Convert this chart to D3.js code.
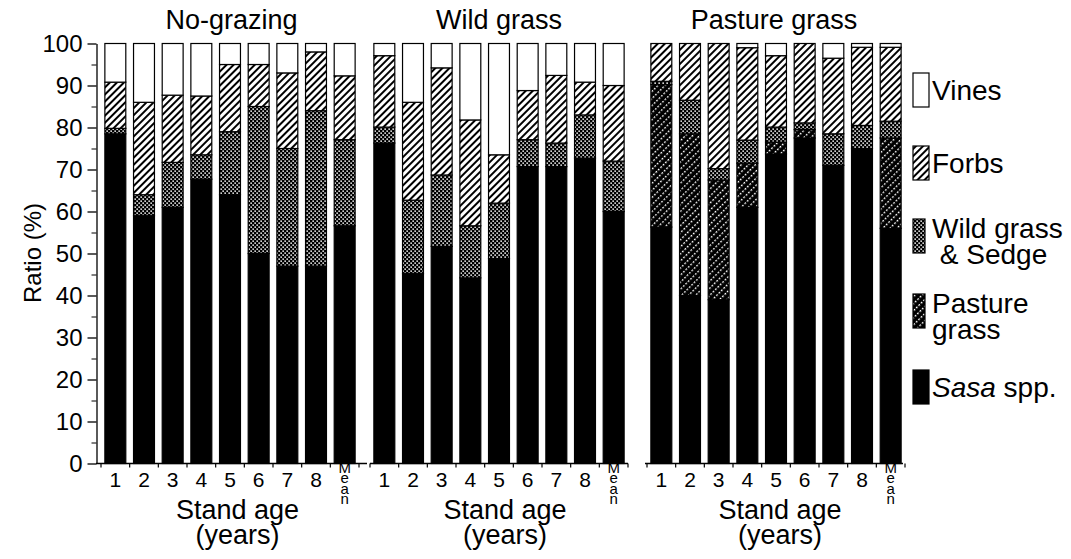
<!DOCTYPE html>
<html>
<head>
<meta charset="utf-8">
<script src="https://cdn.jsdelivr.net/npm/d3@7"></script>
<style>
  body { margin: 0; background: #fff; }
  svg text { font-family: "Liberation Sans", Arial, Helvetica, sans-serif; fill: #000; }
</style>
</head>
<body>
<div id="chart"></div>
<script>
// categories
const ages = ["1", "2", "3", "4", "5", "6", "7", "8", "Mean"];
const layers = ["sasa", "pasture", "wild", "forbs", "vines"];
const yTicks = [0, 10, 20, 30, 40, 50, 60, 70, 80, 90, 100];

// No-grazing (%)
const noGrazingSasa    = [78.5, 59, 61, 67.7, 64, 50, 47, 47, 56.6];
const noGrazingPasture = [0, 0, 0, 0, 0, 0, 0, 0, 0];
const noGrazingWild    = [1.3, 5, 10.7, 5.8, 15, 35, 28, 37, 20.5];
const noGrazingForbs   = [11, 22, 16, 14, 16, 10, 18, 14, 15.2];
const noGrazingVines   = [9.2, 14, 12.3, 12.5, 5, 5, 7, 2, 7.7];

// Wild grass (%)
const wildSasa    = [76.3, 45.2, 51.7, 44.2, 48.8, 70.7, 70.7, 72.7, 60];
const wildPasture = [0, 0, 0, 0, 0, 0, 0, 0, 0];
const wildWild    = [3.8, 17.5, 17, 12.4, 13.2, 6.4, 5.6, 10.3, 12];
const wildForbs   = [17, 23.3, 25.5, 25.2, 11.5, 11.7, 16.1, 7.8, 18];
const wildVines   = [2.9, 14, 5.8, 18.2, 26.5, 11.2, 7.6, 9.2, 10];

// Pasture grass (%)
const pastureSasa    = [56.3, 40, 39, 61, 73.7, 77.5, 71, 75, 56];
const pasturePasture = [33.9, 38.5, 28.5, 10.5, 2.8, 2, 0, 0, 21.5];
const pastureWild    = [0.8, 8, 2.7, 5.5, 3.6, 1.6, 7.5, 5.5, 4];
const pastureForbs   = [9, 13.5, 29.8, 22, 17, 18.9, 18, 18.6, 17.6];
const pastureVines   = [0, 0, 0, 1, 2.9, 0, 3.5, 0.9, 0.9];

function rows(sasa, pasture, wild, forbs, vines) {
  return ages.map((a, i) => ({ age: a, sasa: sasa[i], pasture: pasture[i], wild: wild[i], forbs: forbs[i], vines: vines[i] }));
}

const panels = [
  { title: "No-grazing", axis: [96, 367], band: [101, 359],
    data: rows(noGrazingSasa, noGrazingPasture, noGrazingWild, noGrazingForbs, noGrazingVines) },
  { title: "Wild grass", axis: [370, 628], band: [370, 628],
    data: rows(wildSasa, wildPasture, wildWild, wildForbs, wildVines) },
  { title: "Pasture grass", axis: [645, 903], band: [647, 905],
    data: rows(pastureSasa, pasturePasture, pastureWild, pastureForbs, pastureVines) }
];

const svg = d3.select("#chart").append("svg")
  .attr("width", 1071).attr("height", 559);

// fill patterns
const defs = svg.append("defs");

const pf = defs.append("pattern").attr("id", "p-forbs")
  .attr("patternUnits", "userSpaceOnUse").attr("width", 5).attr("height", 5)
  .attr("patternTransform", "rotate(45)");
pf.append("rect").attr("width", 5).attr("height", 5).attr("fill", "#fff");
pf.append("rect").attr("width", 2).attr("height", 5).attr("fill", "#000");

const pw = defs.append("pattern").attr("id", "p-wild")
  .attr("patternUnits", "userSpaceOnUse").attr("width", 4).attr("height", 4);
pw.append("rect").attr("width", 4).attr("height", 4).attr("fill", "#000");
pw.append("rect").attr("x", 0.4).attr("y", 0.4).attr("width", 1.5).attr("height", 1.5).attr("fill", "#fff");
pw.append("rect").attr("x", 2.4).attr("y", 2.4).attr("width", 1.5).attr("height", 1.5).attr("fill", "#fff");

// black with white dashed "/" lines
const pp = defs.append("pattern").attr("id", "p-pasture")
  .attr("patternUnits", "userSpaceOnUse").attr("width", 5).attr("height", 3.4)
  .attr("patternTransform", "rotate(45)");
pp.append("rect").attr("width", 5).attr("height", 3.4).attr("fill", "#000");
pp.append("rect").attr("x", 0).attr("y", 0).attr("width", 1.3).attr("height", 1.9).attr("fill", "#fff");

const fills = { sasa: "#000", pasture: "url(#p-pasture)", wild: "url(#p-wild)", forbs: "url(#p-forbs)", vines: "#fff" };

const y = d3.scaleLinear().domain([0, 100]).range([463.5, 43.5]);
const stack = d3.stack().keys(layers);

panels.forEach((p, pi) => {
  const x = d3.scaleBand().domain(ages).range(p.band).paddingInner(0.27).paddingOuter(0.135);
  const g = svg.append("g");
  const series = stack(p.data);

  g.selectAll("g.layer")
    .data(series)
    .join("g")
    .attr("class", "layer")
    .attr("fill", d => fills[d.key])
    .selectAll("rect")
    .data(d => d)
    .join("rect")
    .attr("x", d => x(d.data.age))
    .attr("y", d => y(d[1]))
    .attr("width", x.bandwidth())
    .attr("height", d => y(d[0]) - y(d[1]))
    .attr("stroke", "#000")
    .attr("stroke-width", 1.2);

  // x axis line with ticks between bars
  const half = x.step() * x.paddingInner() / 2;
  const bounds = ages.map(a => x(a) - half).concat([x("Mean") + x.bandwidth() + half]);
  g.append("line")
    .attr("x1", p.axis[0]).attr("x2", p.axis[1])
    .attr("y1", y(0)).attr("y2", y(0))
    .attr("stroke", "#000").attr("stroke-width", 1.3);
  g.selectAll("line.xt")
    .data(bounds)
    .join("line")
    .attr("class", "xt")
    .attr("x1", d => d).attr("x2", d => d)
    .attr("y1", y(0)).attr("y2", y(0) + 4)
    .attr("stroke", "#000").attr("stroke-width", 1.2);

  // tick labels
  const xa = g.append("g")
    .attr("transform", `translate(0,${y(0)})`)
    .call(d3.axisBottom(x).tickSize(0).tickPadding(9));
  xa.select(".domain").remove();
  xa.selectAll("text").attr("font-size", 21).attr("font-family", null);
  // "Mean" written as stacked letters
  xa.selectAll(".tick").filter(d => d === "Mean").select("text")
    .text(null)
    .attr("font-size", 15)
    .attr("dy", "0.45em")
    .selectAll("tspan")
    .data("Mean".split(""))
    .join("tspan")
    .attr("x", 0)
    .attr("dy", (d, i) => i === 0 ? 0 : 10.5)
    .text(d => d);

  const cx = (p.axis[0] + p.axis[1]) / 2;
  g.append("text")
    .attr("x", cx).attr("y", 29)
    .attr("text-anchor", "middle").attr("font-size", 27)
    .text(p.title);
  g.append("text")
    .attr("x", cx + 6).attr("y", 519)
    .attr("text-anchor", "middle").attr("font-size", 27)
    .text("Stand age");
  g.append("text")
    .attr("x", cx + 6).attr("y", 544)
    .attr("text-anchor", "middle").attr("font-size", 27)
    .text("(years)");
});

// y axis (first panel only)
const ya = svg.append("g")
  .attr("transform", "translate(96.5,0)")
  .call(d3.axisLeft(y).tickValues(yTicks).tickSize(9).tickSizeOuter(0).tickPadding(5));
ya.select(".domain").attr("stroke-width", 1.3);
ya.selectAll(".tick line").attr("stroke-width", 1.3);
ya.selectAll("text").attr("font-size", 24).attr("font-family", null);

svg.append("g")
  .attr("transform", "translate(96.5,0)")
  .call(d3.axisLeft(y).tickValues(d3.range(5, 100, 10)).tickSize(5).tickFormat(""))
  .call(s => s.select(".domain").remove());

svg.append("text")
  .attr("transform", "translate(41,253) rotate(-90)")
  .attr("text-anchor", "middle").attr("font-size", 24)
  .text("Ratio (%)");

// legend
const legendItems = [
  { key: "vines", top: 73, lines: ["Vines"] },
  { key: "forbs", top: 146, lines: ["Forbs"] },
  { key: "wild", top: 219, lines: ["Wild grass", " & Sedge"] },
  { key: "pasture", top: 294, lines: ["Pasture", "grass"] },
  { key: "sasa", top: 370, lines: ["Sasa spp."] }
];

const lg = svg.append("g");
legendItems.forEach(it => {
  lg.append("rect")
    .attr("x", 913).attr("y", it.top)
    .attr("width", it.key === "wild" || it.key === "pasture" ? 12 : 16).attr("height", 34)
    .attr("fill", fills[it.key]).attr("stroke", "#000").attr("stroke-width", 1.2);
  const t = lg.append("text").attr("font-size", 28);
  if (it.lines.length === 1) {
    if (it.key === "sasa") {
      t.attr("x", 932).attr("y", it.top + 27);
      t.append("tspan").attr("font-style", "italic").text("Sasa");
      t.append("tspan").text(" spp.");
    } else {
      t.attr("x", 932).attr("y", it.top + 27).text(it.lines[0]);
    }
  } else {
    t.append("tspan").attr("x", 932).attr("y", it.top + 19).text(it.lines[0]);
    t.append("tspan").attr("x", 932).attr("y", it.top + 45).attr("xml:space", "preserve").text(it.lines[1]);
  }
});
</script>
</body>
</html>
